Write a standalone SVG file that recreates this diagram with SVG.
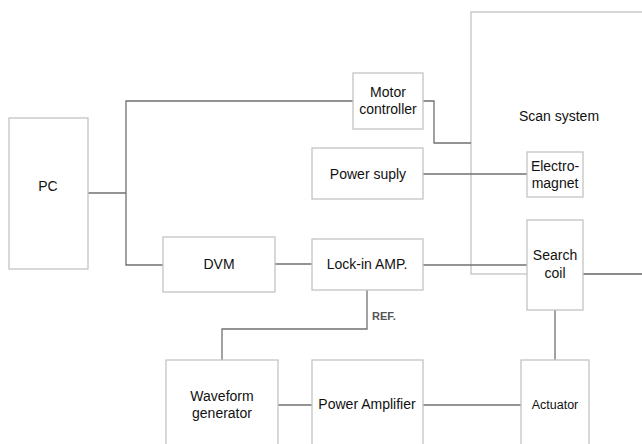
<svg xmlns="http://www.w3.org/2000/svg" width="642" height="444" viewBox="0 0 642 444">
<style>
.box{fill:#fff;stroke:#c4c4c4;stroke-width:1.3}
.wire{fill:none;stroke:#707070;stroke-width:1.3}
.t{font-family:"Liberation Sans",Arial,sans-serif;font-size:14px;fill:#111;text-anchor:middle}
.s{font-size:12.5px}
.ref{font-family:"Liberation Sans",Arial,sans-serif;font-size:11px;font-weight:bold;fill:#555}
</style>
<rect width="642" height="444" fill="#fff"/>
<g id="scan-system">
<rect class="box" x="471" y="12" width="300" height="262"/>
<text class="t" x="559" y="121">Scan system</text>
</g>
<g id="connectors">
<polyline class="wire" points="88,193 126,193"/>
<polyline class="wire" points="353,101 126,101 126,265 163,265"/>
<polyline class="wire" points="423,101 434,101 434,143 471,143"/>
<polyline class="wire" points="423,174 527,174"/>
<polyline class="wire" points="275,264 312,264"/>
<polyline class="wire" points="423,265 527,265"/>
<polyline class="wire" points="583,274 642,274"/>
<polyline class="wire" points="367,290 367,329 222,329 222,360"/>
<polyline class="wire" points="278,405 312,405"/>
<polyline class="wire" points="423,405 521,405"/>
<polyline class="wire" points="555,310 555,360"/>
<text class="ref" x="372" y="320">REF.</text>
</g>
<g id="pc">
<rect class="box" x="9" y="118" width="79" height="151"/>
<text class="t" x="48" y="191">PC</text>
</g>
<g id="motor-controller">
<rect class="box" x="353" y="73" width="70" height="56"/>
<text class="t" x="388" y="97">Motor</text>
<text class="t" x="388" y="114">controller</text>
</g>
<g id="power-supply">
<rect class="box" x="312" y="148" width="111" height="51"/>
<text class="t" x="368" y="179">Power suply</text>
</g>
<g id="electromagnet">
<rect class="box" x="527" y="152" width="56" height="45"/>
<text class="t" x="555" y="171">Electro-</text>
<text class="t" x="555" y="188">magnet</text>
</g>
<g id="dvm">
<rect class="box" x="163" y="237" width="112" height="55"/>
<text class="t" x="219" y="269">DVM</text>
</g>
<g id="lock-in-amp">
<rect class="box" x="312" y="239" width="111" height="51"/>
<text class="t" x="367" y="269">Lock-in AMP.</text>
</g>
<g id="search-coil">
<rect class="box" x="527" y="220" width="56" height="90"/>
<text class="t" x="555" y="260">Search</text>
<text class="t" x="555" y="278">coil</text>
</g>
<g id="waveform-generator">
<rect class="box" x="166" y="360" width="112" height="90"/>
<text class="t" x="222" y="401">Waveform</text>
<text class="t" x="222" y="418">generator</text>
</g>
<g id="power-amplifier">
<rect class="box" x="312" y="360" width="111" height="90"/>
<text class="t" x="367" y="409">Power Amplifier</text>
</g>
<g id="actuator">
<rect class="box" x="521" y="360" width="68" height="90"/>
<text class="t s" x="555" y="409">Actuator</text>
</g>
</svg>
